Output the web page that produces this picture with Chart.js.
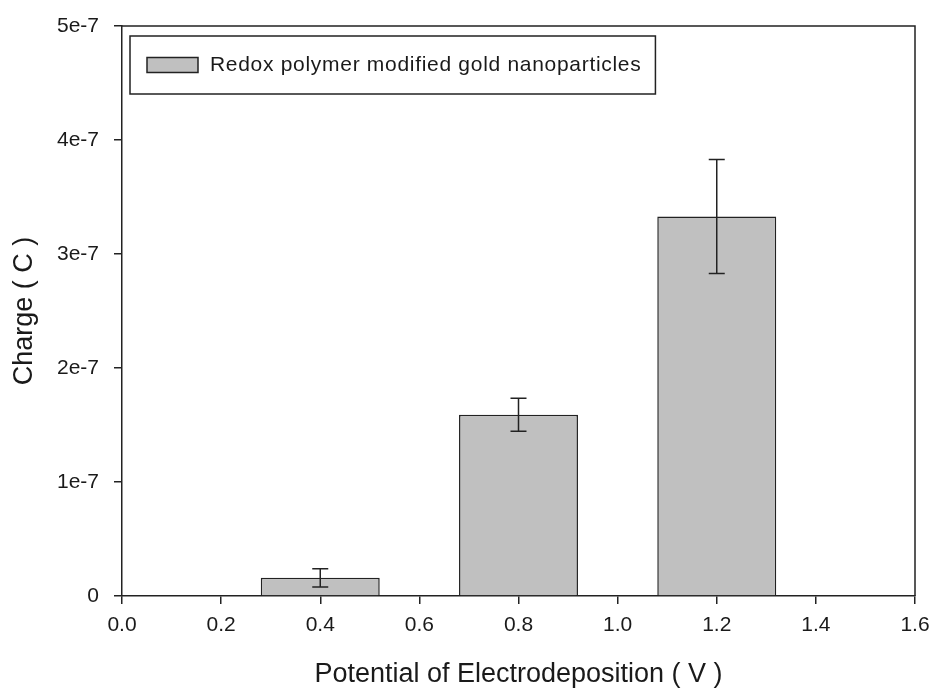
<!DOCTYPE html>
<html><head><meta charset="utf-8">
<script src="https://cdn.jsdelivr.net/npm/chart.js@4.4.0/dist/chart.umd.min.js"></script>
<style>html,body{margin:0;padding:0;background:#fff}canvas{display:block}</style>
</head><body>
<canvas id="c" width="932" height="689"></canvas>
<script>
// ---- data ----
const seriesLabel = 'Redox polymer modified gold nanoparticles';
const potentials = [0.4, 0.8, 1.2];
const charges = [1.6e-8, 1.59e-7, 3.33e-7];
const chargeErrors = [8e-9, 1.45e-8, 5.0e-8];
const xTickLabels = ['0.0', '0.2', '0.4', '0.6', '0.8', '1.0', '1.2', '1.4', '1.6'];
const yTickLabels = ['0', '1e-7', '2e-7', '3e-7', '4e-7', '5e-7'];
const xTitle = 'Potential of Electrodeposition ( V )';
const yTitle = 'Charge ( C )';

// ---- styles ----
const LINE = '#222';
const TEXT = '#1a1a1a';
const FILL = '#c0c0c0';
const FONT = "'Liberation Sans', Arial, sans-serif";

const errorBarPlugin = {
  id: 'errorBars',
  afterDatasetsDraw(chart) {
    const {ctx, scales: {x, y}} = chart;
    ctx.save();
    ctx.strokeStyle = LINE;
    ctx.lineWidth = 1.5;
    const cap = 8;
    potentials.forEach((p, i) => {
      const px = x.getPixelForValue(p);
      const yTop = y.getPixelForValue(charges[i] + chargeErrors[i]);
      const yBot = y.getPixelForValue(charges[i] - chargeErrors[i]);
      ctx.beginPath();
      ctx.moveTo(px, yTop); ctx.lineTo(px, yBot);
      ctx.moveTo(px - cap, yTop); ctx.lineTo(px + cap, yTop);
      ctx.moveTo(px - cap, yBot); ctx.lineTo(px + cap, yBot);
      ctx.stroke();
    });
    ctx.restore();
  }
};

const framePlugin = {
  id: 'frame',
  afterDatasetsDraw(chart) {
    const {ctx, chartArea: a} = chart;
    ctx.save();
    ctx.strokeStyle = LINE;
    ctx.lineWidth = 1.5;
    ctx.beginPath();
    ctx.moveTo(a.left, a.top);
    ctx.lineTo(a.right, a.top);
    ctx.lineTo(a.right, a.bottom);
    ctx.stroke();
    ctx.restore();
  }
};

const boxLegendPlugin = {
  id: 'boxLegend',
  afterDraw(chart) {
    const {ctx, chartArea: a} = chart;
    const ds = chart.data.datasets[0];
    ctx.save();
    ctx.font = "21px " + FONT;
    try { ctx.letterSpacing = '0.7px'; } catch (e) {}
    const tw = ctx.measureText(ds.label).width;
    const left = a.left + 8, top = a.top + 10, h = 58;
    const padL = 17, sw = 51, sh = 15, gap = 12, padR = 14;
    const w = padL + sw + gap + tw + padR;
    ctx.fillStyle = '#fff';
    ctx.fillRect(left, top, w, h);
    ctx.strokeStyle = LINE;
    ctx.lineWidth = 1.5;
    ctx.strokeRect(left, top, w, h);
    const cy = top + h / 2;
    ctx.fillStyle = ds.backgroundColor;
    ctx.fillRect(left + padL, cy - sh / 2, sw, sh);
    ctx.strokeRect(left + padL, cy - sh / 2, sw, sh);
    ctx.fillStyle = TEXT;
    ctx.textBaseline = 'middle';
    ctx.textAlign = 'left';
    ctx.fillText(ds.label, left + padL + sw + gap, cy);
    ctx.restore();
  }
};

new Chart(document.getElementById('c'), {
  type: 'bar',
  data: {
    datasets: [{
      label: seriesLabel,
      data: potentials.map((p, i) => ({x: p, y: charges[i]})),
      backgroundColor: FILL,
      borderColor: LINE,
      borderWidth: 1.5,
      barPercentage: 1.2,
      categoryPercentage: 1.0
    }]
  },
  options: {
    responsive: false,
    animation: false,
    layout: {padding: {top: 26, right: 17, left: 0, bottom: 0}},
    plugins: {legend: {display: false}, tooltip: {enabled: false}},
    scales: {
      x: {
        type: 'linear',
        min: 0, max: 1.6,
        offset: false,
        afterFit(s) { s.height = 93; s.paddingLeft = 0; s.paddingRight = 0; },
        grid: {display: true, drawOnChartArea: false, drawTicks: true, tickLength: 8, color: LINE, lineWidth: 1.5, offset: false},
        border: {display: true, color: LINE, width: 1.5},
        ticks: {
          stepSize: 0.2,
          autoSkip: false,
          maxRotation: 0,
          padding: 9,
          color: TEXT,
          font: {family: FONT, size: 21},
          callback: (v, i) => xTickLabels[i]
        },
        title: {display: true, text: xTitle, color: TEXT, font: {family: FONT, size: 27, lineHeight: 1}, padding: {top: 0, bottom: 0.5}}
      },
      y: {
        type: 'linear',
        min: 0, max: 5e-7,
        afterFit(s) { s.width = 122; s.paddingTop = 0; s.paddingBottom = 0; },
        grid: {display: true, drawOnChartArea: false, drawTicks: true, tickLength: 8, color: LINE, lineWidth: 1.5},
        border: {display: true, color: LINE, width: 1.5},
        ticks: {
          stepSize: 1e-7,
          padding: 15,
          color: TEXT,
          font: {family: FONT, size: 21},
          callback: (v, i) => yTickLabels[i]
        },
        title: {display: true, text: yTitle, color: TEXT, font: {family: FONT, size: 27, lineHeight: 1}, padding: {top: 11, bottom: 0}}
      }
    }
  },
  plugins: [framePlugin, errorBarPlugin, boxLegendPlugin]
});
</script>
</body></html>
